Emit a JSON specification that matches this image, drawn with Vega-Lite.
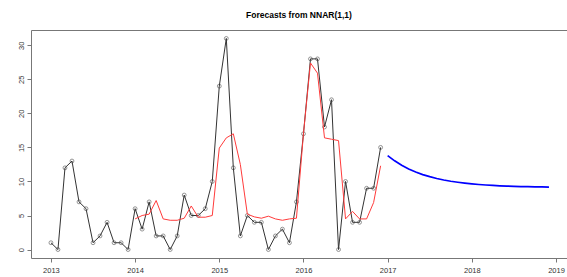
{
  "$schema": "https://vega.github.io/schema/vega-lite/v6.json",
  "width": 536,
  "height": 228,
  "autosize": {"type": "none"},
  "padding": {"left": 31, "top": 30, "right": 0, "bottom": 19},
  "background": "white",
  "title": {"text": "Forecasts from NNAR(1,1)", "fontSize": 8.5, "fontWeight": "bold", "font": "Liberation Sans", "color": "#000", "anchor": "middle", "offset": 11},
  "config": {
    "view": {"stroke": "#777", "strokeWidth": 1},
    "axis": {"grid": false, "domain": false, "tickColor": "#777", "tickSize": 4, "labelFont": "Liberation Sans", "labelFontSize": 7.5, "labelColor": "#333", "title": null}
  },
  "datasets": {
    "actual": [
      {"t": 2013.0000, "y": 1}, {"t": 2013.0833, "y": 0}, {"t": 2013.1667, "y": 12}, {"t": 2013.2500, "y": 13},
      {"t": 2013.3333, "y": 7}, {"t": 2013.4167, "y": 6}, {"t": 2013.5000, "y": 1}, {"t": 2013.5833, "y": 2},
      {"t": 2013.6667, "y": 4}, {"t": 2013.7500, "y": 1}, {"t": 2013.8333, "y": 1}, {"t": 2013.9167, "y": 0},
      {"t": 2014.0000, "y": 6}, {"t": 2014.0833, "y": 3}, {"t": 2014.1667, "y": 7}, {"t": 2014.2500, "y": 2},
      {"t": 2014.3333, "y": 2}, {"t": 2014.4167, "y": 0}, {"t": 2014.5000, "y": 2}, {"t": 2014.5833, "y": 8},
      {"t": 2014.6667, "y": 5}, {"t": 2014.7500, "y": 5}, {"t": 2014.8333, "y": 6}, {"t": 2014.9167, "y": 10},
      {"t": 2015.0000, "y": 24}, {"t": 2015.0833, "y": 31}, {"t": 2015.1667, "y": 12}, {"t": 2015.2500, "y": 2},
      {"t": 2015.3333, "y": 5}, {"t": 2015.4167, "y": 4}, {"t": 2015.5000, "y": 4}, {"t": 2015.5833, "y": 0},
      {"t": 2015.6667, "y": 2}, {"t": 2015.7500, "y": 3}, {"t": 2015.8333, "y": 1}, {"t": 2015.9167, "y": 7},
      {"t": 2016.0000, "y": 17}, {"t": 2016.0833, "y": 28}, {"t": 2016.1667, "y": 28}, {"t": 2016.2500, "y": 18},
      {"t": 2016.3333, "y": 22}, {"t": 2016.4167, "y": 0}, {"t": 2016.5000, "y": 10}, {"t": 2016.5833, "y": 4},
      {"t": 2016.6667, "y": 4}, {"t": 2016.7500, "y": 9}, {"t": 2016.8333, "y": 9}, {"t": 2016.9167, "y": 15}
    ],
    "fitted": [
      {"t": 2014.0000, "y": 4.5}, {"t": 2014.0833, "y": 5.0}, {"t": 2014.1667, "y": 5.2}, {"t": 2014.2500, "y": 7.2},
      {"t": 2014.3333, "y": 4.5}, {"t": 2014.4167, "y": 4.3}, {"t": 2014.5000, "y": 4.3}, {"t": 2014.5833, "y": 4.6},
      {"t": 2014.6667, "y": 6.4}, {"t": 2014.7500, "y": 4.75}, {"t": 2014.8333, "y": 4.75}, {"t": 2014.9167, "y": 5.0},
      {"t": 2015.0000, "y": 14.9}, {"t": 2015.0833, "y": 16.4}, {"t": 2015.1667, "y": 17.0}, {"t": 2015.2500, "y": 12.5},
      {"t": 2015.3333, "y": 5.2}, {"t": 2015.4167, "y": 4.8}, {"t": 2015.5000, "y": 4.6}, {"t": 2015.5833, "y": 4.9},
      {"t": 2015.6667, "y": 4.5}, {"t": 2015.7500, "y": 4.3}, {"t": 2015.8333, "y": 4.5}, {"t": 2015.9167, "y": 4.6},
      {"t": 2016.0000, "y": 17.0}, {"t": 2016.0833, "y": 27.4}, {"t": 2016.1667, "y": 25.9}, {"t": 2016.2500, "y": 16.4},
      {"t": 2016.3333, "y": 16.2}, {"t": 2016.4167, "y": 16.0}, {"t": 2016.5000, "y": 4.5}, {"t": 2016.5833, "y": 5.6},
      {"t": 2016.6667, "y": 4.5}, {"t": 2016.7500, "y": 4.5}, {"t": 2016.8333, "y": 6.9}, {"t": 2016.9167, "y": 12.3}
    ],
    "forecast": [
      {"t": 2017.0000, "y": 13.8}, {"t": 2017.0833, "y": 13.03}, {"t": 2017.1667, "y": 12.38}, {"t": 2017.2500, "y": 11.84},
      {"t": 2017.3333, "y": 11.39}, {"t": 2017.4167, "y": 11.01}, {"t": 2017.5000, "y": 10.70}, {"t": 2017.5833, "y": 10.43},
      {"t": 2017.6667, "y": 10.21}, {"t": 2017.7500, "y": 10.03}, {"t": 2017.8333, "y": 9.88}, {"t": 2017.9167, "y": 9.75},
      {"t": 2018.0000, "y": 9.64}, {"t": 2018.0833, "y": 9.55}, {"t": 2018.1667, "y": 9.48}, {"t": 2018.2500, "y": 9.42},
      {"t": 2018.3333, "y": 9.36}, {"t": 2018.4167, "y": 9.32}, {"t": 2018.5000, "y": 9.28}, {"t": 2018.5833, "y": 9.25},
      {"t": 2018.6667, "y": 9.23}, {"t": 2018.7500, "y": 9.21}, {"t": 2018.8333, "y": 9.19}, {"t": 2018.9167, "y": 9.18}
    ]
  },
  "encoding": {
    "x": {"field": "t", "type": "quantitative", "scale": {"domain": [2012.763, 2019.131], "nice": false, "zero": false},
          "axis": {"values": [2013, 2014, 2015, 2016, 2017, 2018, 2019], "format": "d", "labelPadding": 4}},
    "y": {"field": "y", "type": "quantitative", "scale": {"domain": [-1.24, 32.24], "nice": false, "zero": false},
          "axis": {"values": [0, 5, 10, 15, 20, 25, 30], "labelAngle": -90, "labelAlign": "center", "labelBaseline": "bottom", "labelPadding": 2}}
  },
  "layer": [
    {"data": {"name": "actual"}, "mark": {"type": "line", "color": "#333", "strokeWidth": 1}},
    {"data": {"name": "actual"}, "mark": {"type": "point", "shape": "circle", "filled": false, "color": "#444", "size": 15, "strokeWidth": 0.8}},
    {"data": {"name": "fitted"}, "mark": {"type": "line", "color": "#ff3b3b", "strokeWidth": 1}},
    {"data": {"name": "forecast"}, "mark": {"type": "line", "color": "#0000ff", "strokeWidth": 1.7}}
  ]
}
